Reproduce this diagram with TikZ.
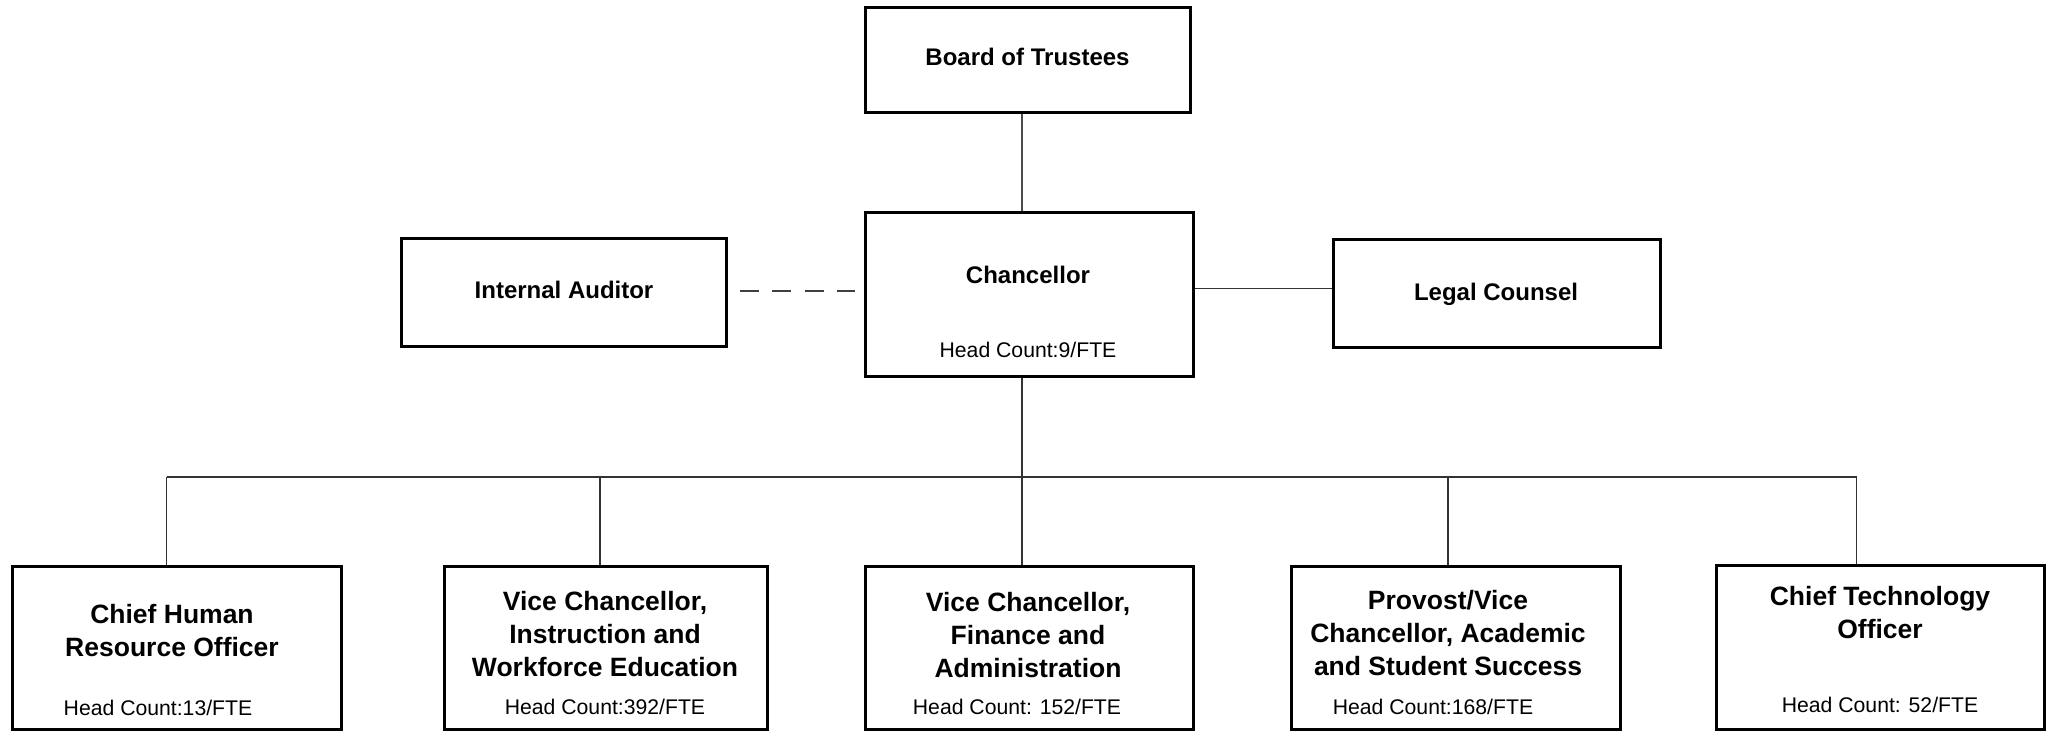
\documentclass[tikz,border=0pt]{standalone}
\usepackage{fontspec}
\setmainfont{Liberation Sans}
\begin{document}
\begin{tikzpicture}[x=0.5pt,y=-0.5pt,
  box/.style={draw=black,line width=1.5pt,fill=white,inner sep=0pt,minimum height=#1},
  toptitle/.style={font=\fontsize{12}{15}\selectfont\bfseries,inner sep=0pt,align=center},
  bottitle/.style={font=\fontsize{13.25}{16.5}\selectfont\bfseries,inner sep=0pt,align=center},
  hc/.style={font=\fontsize{10.6}{13}\selectfont,inner sep=0pt},
  conn/.style={draw=black!80,line width=0.7pt},
  dashconn/.style={draw=black!75,line width=0.75pt,dash pattern=on 9.5pt off 6.83pt}]
\useasboundingbox (0,0) rectangle (2049,731);
% boxes
\node[box=52.5pt,minimum width=162.5pt] (board) at (1027.5,60.5) {};
\node[box=82pt,minimum width=164pt] (chan) at (1029,295) {};
\node[box=54pt,minimum width=162.5pt] (ia) at (563.5,293) {};
\node[box=54pt,minimum width=163.5pt] (legal) at (1496.5,294) {};
\node[box=81.5pt,minimum width=164.5pt] (b1) at (176.5,647.5) {};
\node[box=81.5pt,minimum width=161.5pt] (b2) at (605.5,647.5) {};
\node[box=81.5pt,minimum width=164pt] (b3) at (1029,647.5) {};
\node[box=81.5pt,minimum width=164.5pt] (b4) at (1455.5,647.5) {};
\node[box=82pt,minimum width=164pt] (b5) at (1880,647) {};
% texts
\node[toptitle] (tboard) at (1027.5,57) {Board of Trustees};
\node[toptitle] (tchan) at (1028,275) {Chancellor};
\node[hc] (hchan) at (1028,350) {Head Count:9/FTE};
\node[toptitle] (tia) at (564,290) {Internal Auditor};
\node[toptitle] (tlegal) at (1496,294) {Legal Counsel};
\node[bottitle] (t1) at (172,631) {Chief Human\\Resource Officer};
\node[hc] (h1) at (158,708) {Head Count:13/FTE};
\node[bottitle] (t2) at (605,634) {Vice Chancellor,\\Instruction and\\Workforce Education};
\node[hc] (h2) at (605,707) {Head Count:392/FTE};
\node[bottitle] (t3) at (1028,635) {Vice Chancellor,\\Finance and\\Administration};
\node[hc] (h3) at (1017,707) {Head Count: 152/FTE};
\node[bottitle] (t4) at (1448,633) {Provost/Vice\\Chancellor, Academic\\and Student Success};
\node[hc] (h4) at (1433,707) {Head Count:168/FTE};
\node[bottitle] (t5) at (1880,613) {Chief Technology\\Officer};
\node[hc] (h5) at (1880,705) {Head Count: 52/FTE};
% helper coordinates
\coordinate (bus) at (1022,477);
\coordinate (d1) at (166.7,477);
\coordinate (d2) at (600,477);
\coordinate (d4) at (1448,477);
\coordinate (d5) at (1856.7,477);
\coordinate (dy) at (0,291);
\coordinate (ly) at (0,288.7);
% connectors
\draw[draw=black!70,line width=1pt] (board.south -| bus) -- (chan.north -| bus);
\draw[conn] (chan.south -| bus) -- (bus);
\draw[conn] (d1) -- (d5);
\draw[conn] (d1) -- (b1.north -| d1);
\draw[conn] (d2) -- (b2.north -| d2);
\draw[conn] (bus) -- (b3.north -| bus);
\draw[conn] (d4) -- (b4.north -| d4);
\draw[conn] (d5) -- (b5.north -| d5);
\draw[dashconn,shorten <=6pt,shorten >=4.5pt] (ia.east |- dy) -- (chan.west |- dy);
\draw[conn] (chan.east |- ly) -- (legal.west |- ly);
\end{tikzpicture}
\end{document}
